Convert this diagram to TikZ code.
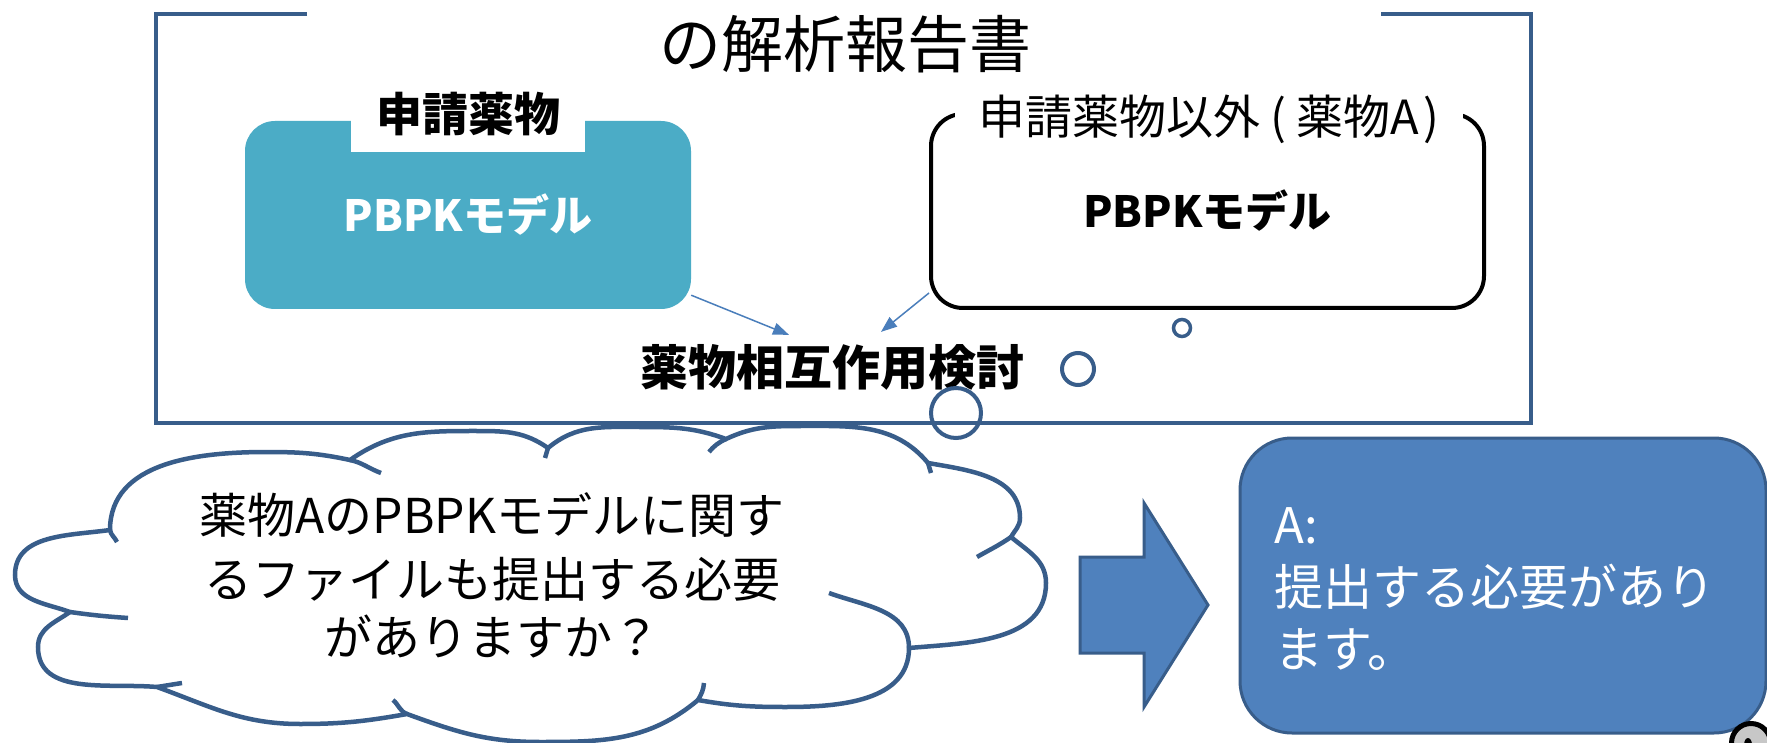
\documentclass[tikz,border=0pt]{standalone}
\usepackage{fontspec}
\setmainfont{Noto Sans CJK JP}
\usetikzlibrary{arrows.meta,calc,shapes.geometric}
\definecolor{framecol}{RGB}{56,93,138}
\definecolor{tealcol}{RGB}{75,172,198}
\definecolor{arrowcol}{RGB}{74,126,187}
\definecolor{boxblue}{RGB}{79,129,189}
\newcommand\myfs[2]{\fontsize{#1}{#2}\selectfont}
\begin{document}
\begin{tikzpicture}[x=1pt,y=1pt,
  frameline/.style={draw=framecol,line width=4pt},
  txt/.style={inner sep=0pt},
  tealbox/.style={fill=tealcol,rounded corners=30pt,inner sep=0pt,text=white,font=\myfs{43}{50}\bfseries},
  otherbox/.style={draw=black,line width=4pt,fill=white,rounded corners=32pt,inner sep=0pt,font=\myfs{43}{50}\bfseries},
  thinarrow/.style={draw=arrowcol,line width=1.5pt,-{Triangle[length=16pt,width=12pt]}},
  bubble/.style={circle,draw=framecol,line width=4pt,inner sep=0pt},
  cloudline/.style={draw=framecol,line width=4.5pt},
  bigarrow/.style={fill=boxblue,draw=framecol,line width=3pt,line join=miter},
  answerbox/.style={fill=boxblue,draw=framecol,line width=3pt,rounded corners=52pt,inner sep=0pt},
]
\useasboundingbox (0,0) rectangle (1767,-743);
\fill[white] (0,0) rectangle (1767,-743);

% outer frame with gap for title
\draw[frameline] (307,-14) -- (156,-14) -- (156,-423) -- (1531,-423) -- (1531,-14) -- (1381,-14);
\node[txt,font=\myfs{62}{70}] (title) at (845,-44) {の解析報告書};

% applicant drug box
\node[tealbox,minimum width=446pt,minimum height=188pt] (teal) at (468,-215) {PBPKモデル};
\node[txt,fill=white,minimum width=234pt,minimum height=76pt,font=\myfs{46}{50}\bfseries] (tealtag) at (468,-114) {申請薬物};

% other drug box
\node[otherbox,minimum width=553pt,minimum height=194pt] (other) at (1207.5,-211) {PBPKモデル};
\node[txt,fill=white,minimum width=508pt,minimum height=46pt,font=\myfs{47}{50}] (othertag) at (1209,-119) {申請薬物以外\hspace{10pt}(\hspace{10pt}薬物A\hspace{4pt})};

% DDI text
\node[txt,font=\myfs{48}{52}\bfseries] (ddi) at (832,-367) {薬物相互作用検討};
\draw[thinarrow] ([yshift=14pt]teal.south east) -- ([xshift=-43pt,yshift=9pt]ddi.north);
\draw[thinarrow] ([yshift=-82pt]other.west) -- ([xshift=49pt,yshift=12pt]ddi.north);

% thought bubbles
\node[bubble,minimum size=50pt] (b1) at (956,-413) {};
\node[bubble,minimum size=32pt] (b2) at (1078,-369) {};
\node[bubble,minimum size=17pt,line width=3.5pt] (b3) at (1182,-328) {};

% cloud
\draw[cloudline,fill=white]
  (110,-530) to[out=90,in=180] (267,-452) to[out=0,in=168] (350,-460)
  to[out=35,in=180] (480,-431) to[out=0,in=145] (548,-448)
  to[out=40,in=180] (640,-427) to[out=0,in=160] (726,-439)
  to[out=25,in=180] (800,-426) to[out=0,in=130] (928,-463)
  to[out=-10,in=90] (1020,-518) to[out=270,in=60] (1011,-537)
  to[out=-40,in=90] (1046,-583) to[out=270,in=5] (909,-648)
  to[out=270,in=0] (786,-707) to[out=180,in=-10] (698,-700)
  to[out=220,in=0] (540,-742) to[out=180,in=-20] (407,-714)
  to[out=190,in=0] (300,-724) to[out=180,in=-20] (157,-687)
  to[out=175,in=270] (38,-647) to[out=90,in=215] (70,-612)
  to[out=160,in=270] (15,-575) to[out=90,in=188] (110,-530) -- cycle;
% inner hooks of the cloud
\draw[cloudline] (110,-530) to[out=-80,in=115] (117,-542);
\draw[cloudline] (350,-460) to[out=-12,in=160] (381,-473);
\draw[cloudline] (548,-448) -- (545,-458);
\draw[cloudline] (709,-452) to[out=50,in=205] (726,-439);
\draw[cloudline] (928,-463) -- (931,-473);
\draw[cloudline] (1011,-537) to[out=215,in=30] (977,-557);
\draw[cloudline] (829,-593) to[out=-20,in=90] (909,-648);
\draw[cloudline] (704,-683) to[out=265,in=60] (698,-700);
\draw[cloudline] (407,-714) to[out=160,in=-40] (393,-700);
\draw[cloudline] (157,-687) -- (182,-683);
\draw[cloudline] (128,-618) to[out=176,in=-8] (70,-612);
\node[txt,align=center,font=\myfs{48}{64}] (question) at (492,-575)
  {薬物AのPBPKモデルに関す\\るファイルも提出する必要\\[-6pt]がありますか？};

% big block arrow
\draw[bigarrow] (1080,-557) -- (1144,-557) -- (1144,-503) -- (1208,-605) -- (1144,-707) -- (1144,-653) -- (1080,-653) -- cycle;

% answer box
\node[answerbox,anchor=north west,minimum width=526pt,minimum height=295pt] (answer) at (1238.5,-436.5) {};
\node[txt,anchor=north west,align=left,text=white,font=\myfs{49}{62}] (answertext) at (1274,-507) {A:\\提出する必要があり\\ます。};

% corner icon (cut off)
\node[circle,draw=black,line width=5pt,fill=black!22,minimum size=39pt,inner sep=0pt] (icon) at (1751,-743) {};
\node[ellipse,fill=black,minimum width=8pt,minimum height=14pt,inner sep=0pt] (icondot) at (1748,-745) {};
\end{tikzpicture}
\end{document}
